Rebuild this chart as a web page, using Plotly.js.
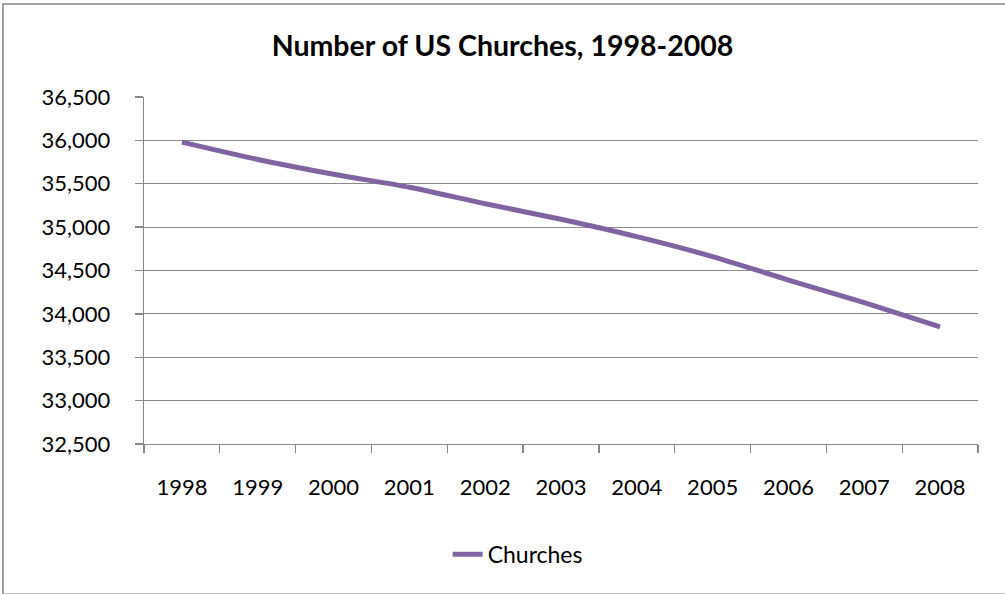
<!DOCTYPE html>
<html>
<head>
<meta charset="utf-8">
<script src="https://cdn.plot.ly/plotly-3.0.1.min.js"></script>
<style>
  html, body { margin: 0; padding: 0; background: #ffffff; }
  #chart { width: 1005px; height: 594px; }
</style>
</head>
<body>
<div id="chart"></div>
<script>
// Number of US churches per year
const years = ['1998', '1999', '2000', '2001', '2002', '2003', '2004', '2005', '2006', '2007', '2008'];
const churches = [35980, 35780, 35610, 35460, 35270, 35090, 34890, 34660, 34390, 34130, 33850];
const yTicks = [32500, 33000, 33500, 34000, 34500, 35000, 35500, 36000, 36500];
const yTickText = ['32,500', '33,000', '33,500', '34,000', '34,500', '35,000', '35,500', '36,000', '36,500'];

const axisGray = '#868686';
const font = 'Lato, "Open Sans", sans-serif';

const trace = {
  type: 'scatter',
  mode: 'lines',
  name: 'Churches',
  x: years,
  y: churches,
  line: { color: '#8064A2', width: 5, shape: 'spline', smoothing: 0.6 },
  hoverinfo: 'x+y'
};

const layout = {
  width: 1005,
  height: 594,
  margin: { l: 144, r: 27, t: 97, b: 150 },
  paper_bgcolor: '#ffffff',
  plot_bgcolor: '#ffffff',
  font: { family: font, size: 22, color: '#000000' },
  title: {
    text: '<b>Number of US Churches, 1998-2008</b>',
    font: { family: font, size: 28.5, color: '#000000' },
    x: 0.5,
    xanchor: 'center',
    y: 0.922,
    yanchor: 'middle'
  },
  xaxis: {
    type: 'category',
    range: [-0.5, years.length - 0.5],
    tickson: 'boundaries',
    ticks: 'outside',
    ticklen: 8,
    tickwidth: 1.3,
    tickcolor: axisGray,
    showgrid: false,
    showline: true,
    linecolor: axisGray,
    linewidth: 1.3,
    zeroline: false,
    ticklabelstandoff: 23,
    tickfont: { family: font, size: 22, color: '#000000' },
    fixedrange: true
  },
  yaxis: {
    range: [32500, 36500],
    tickvals: yTicks,
    ticktext: yTickText,
    ticks: 'outside',
    ticklen: 8,
    tickwidth: 1.3,
    tickcolor: axisGray,
    showline: true,
    linecolor: axisGray,
    linewidth: 1.3,
    showgrid: true,
    gridcolor: '#8a8a8a',
    gridwidth: 1,
    zeroline: false,
    ticklabelstandoff: 20,
    tickfont: { family: font, size: 22, color: '#000000' },
    fixedrange: true
  },
  showlegend: true,
  legend: {
    orientation: 'h',
    x: 0.448,
    xanchor: 'center',
    y: -0.318,
    yanchor: 'middle',
    font: { family: font, size: 23, color: '#000000' },
    bgcolor: 'rgba(0,0,0,0)'
  },
  shapes: [
    {
      type: 'rect',
      xref: 'paper', yref: 'paper',
      x0: -0.1691, x1: 1.06,
      y0: -0.433, y1: 1.268,
      line: { color: axisGray, width: 1.5 },
      fillcolor: 'rgba(0,0,0,0)',
      layer: 'below'
    }
  ]
};

Plotly.newPlot('chart', [trace], layout, { displayModeBar: false, staticPlot: true });
</script>
</body>
</html>
